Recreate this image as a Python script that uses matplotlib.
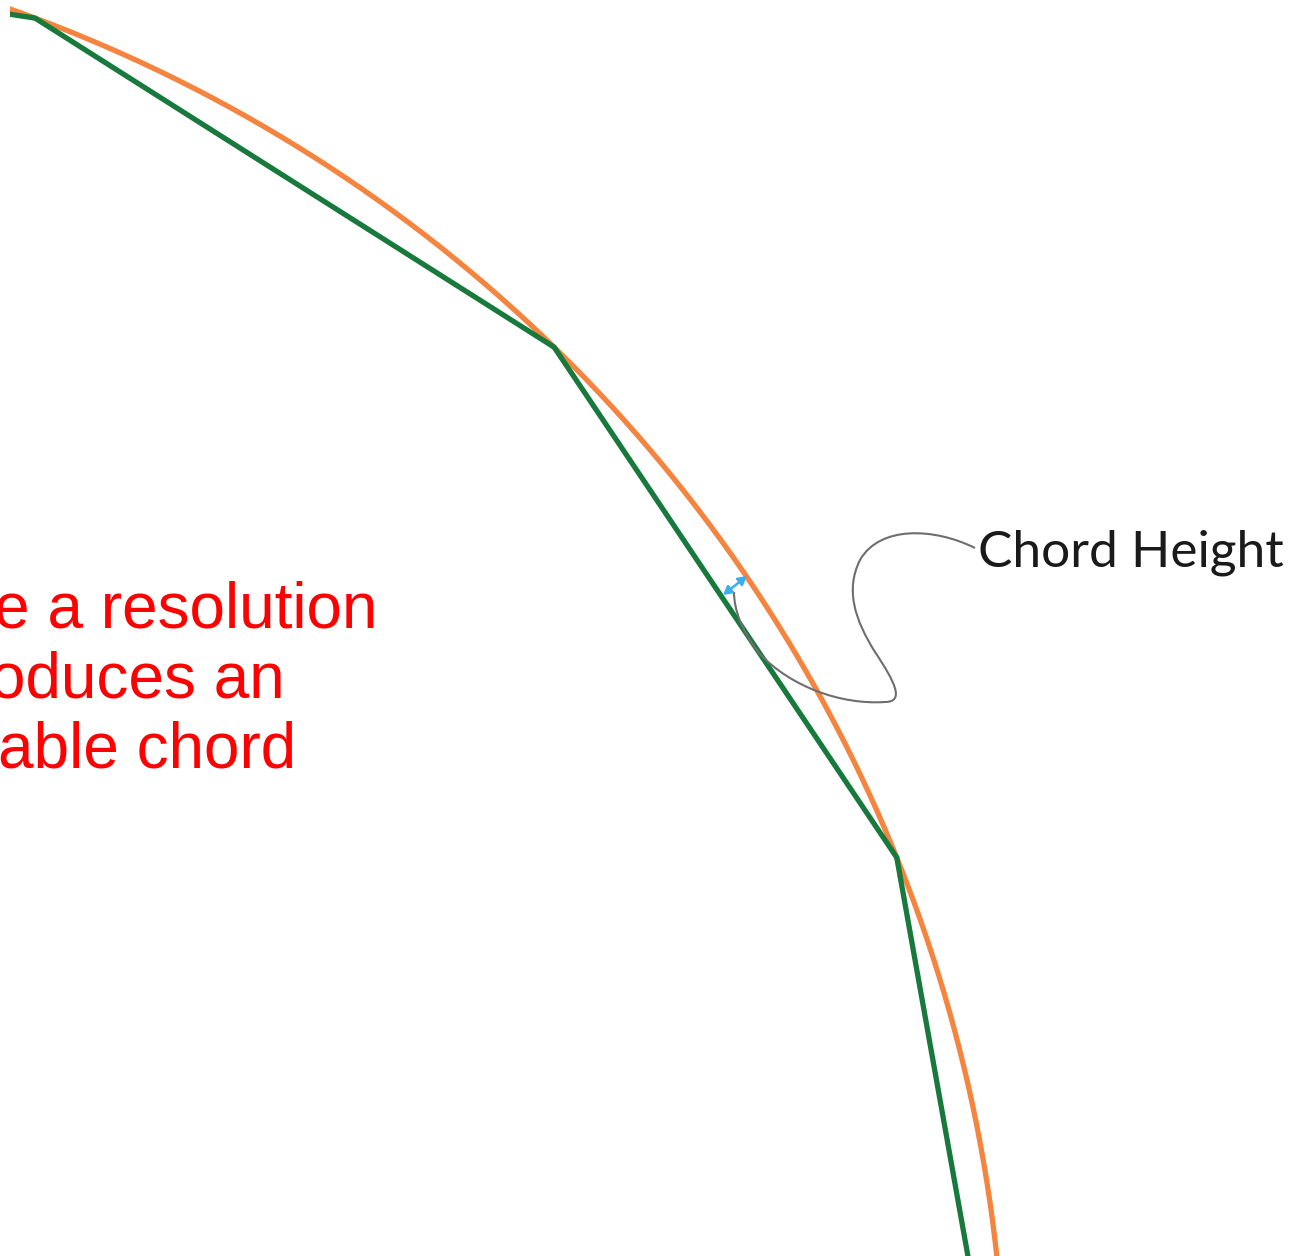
import numpy as np
import matplotlib
matplotlib.use("Agg")
import matplotlib.pyplot as plt
from matplotlib.path import Path
from matplotlib.patches import PathPatch, Rectangle

# ---- geometry data (pixel space, y down) ----
center = (-488.0, 1417.0)
radius = 1493.5
vertex_angles_deg = [93.2, 69.5, 45.75, 22.0, -1.75]   # polygon vertices on the circle
arc_range_deg = [100.0, -12.0]

red_lines = ["e a resolution", "oduces an", "able chord"]
red_right_x = [377, 285, 296]
red_baseline_y = [628, 698, 768]

label_text = "Chord Height"

leader_vertices = [(975, 548),
                   (935, 528), (880, 525), (860, 560),
                   (845, 590), (855, 620), (875, 652),
                   (895, 682), (905, 702), (885, 702),
                   (840, 705), (790, 686), (760, 654),
                   (742, 632), (734, 610), (734, 592)]
arrow_start = (723, 595)
arrow_end = (747, 576)

W, H = 1291, 1256
fig = plt.figure(figsize=(W / 100, H / 100), dpi=100)
ax = fig.add_axes([0, 0, 1, 1])
ax.set_xlim(0, W)
ax.set_ylim(H, 0)
ax.axis("off")

clip = Rectangle((10, -50), W + 100, H + 100, transform=ax.transData)

cx, cy = center
t = np.radians(np.linspace(arc_range_deg[0], arc_range_deg[1], 600))
arc, = ax.plot(cx + radius * np.cos(t), cy - radius * np.sin(t),
               color="#f5843f", lw=3.8, solid_capstyle="butt", zorder=2)
arc.set_clip_path(clip)

va = np.radians(vertex_angles_deg)
poly, = ax.plot(cx + radius * np.cos(va), cy - radius * np.sin(va),
                color="#17793c", lw=3.8, solid_joinstyle="miter",
                solid_capstyle="butt", zorder=3)
poly.set_clip_path(clip)

codes = [Path.MOVETO] + [Path.CURVE4] * (len(leader_vertices) - 1)
ax.add_patch(PathPatch(Path(leader_vertices, codes), fill=False,
                       edgecolor="#6e6e6e", lw=1.5, zorder=4))

ax.annotate("", xy=arrow_end, xytext=arrow_start,
            arrowprops=dict(arrowstyle="<|-|>,head_length=0.5,head_width=0.28",
                            color="#3aaeee", lw=1.8, shrinkA=0, shrinkB=0),
            zorder=5)

for s, x, y in zip(red_lines, red_right_x, red_baseline_y):
    ax.text(x, y, s, color="#ff0000", fontsize=46, family="Liberation Sans",
            ha="right", va="baseline")

ax.text(978, 567, label_text, color="#1a1a1a", fontsize=37, family="Lato",
        ha="left", va="baseline")

fig.savefig("out.png", dpi=100, facecolor="white")
